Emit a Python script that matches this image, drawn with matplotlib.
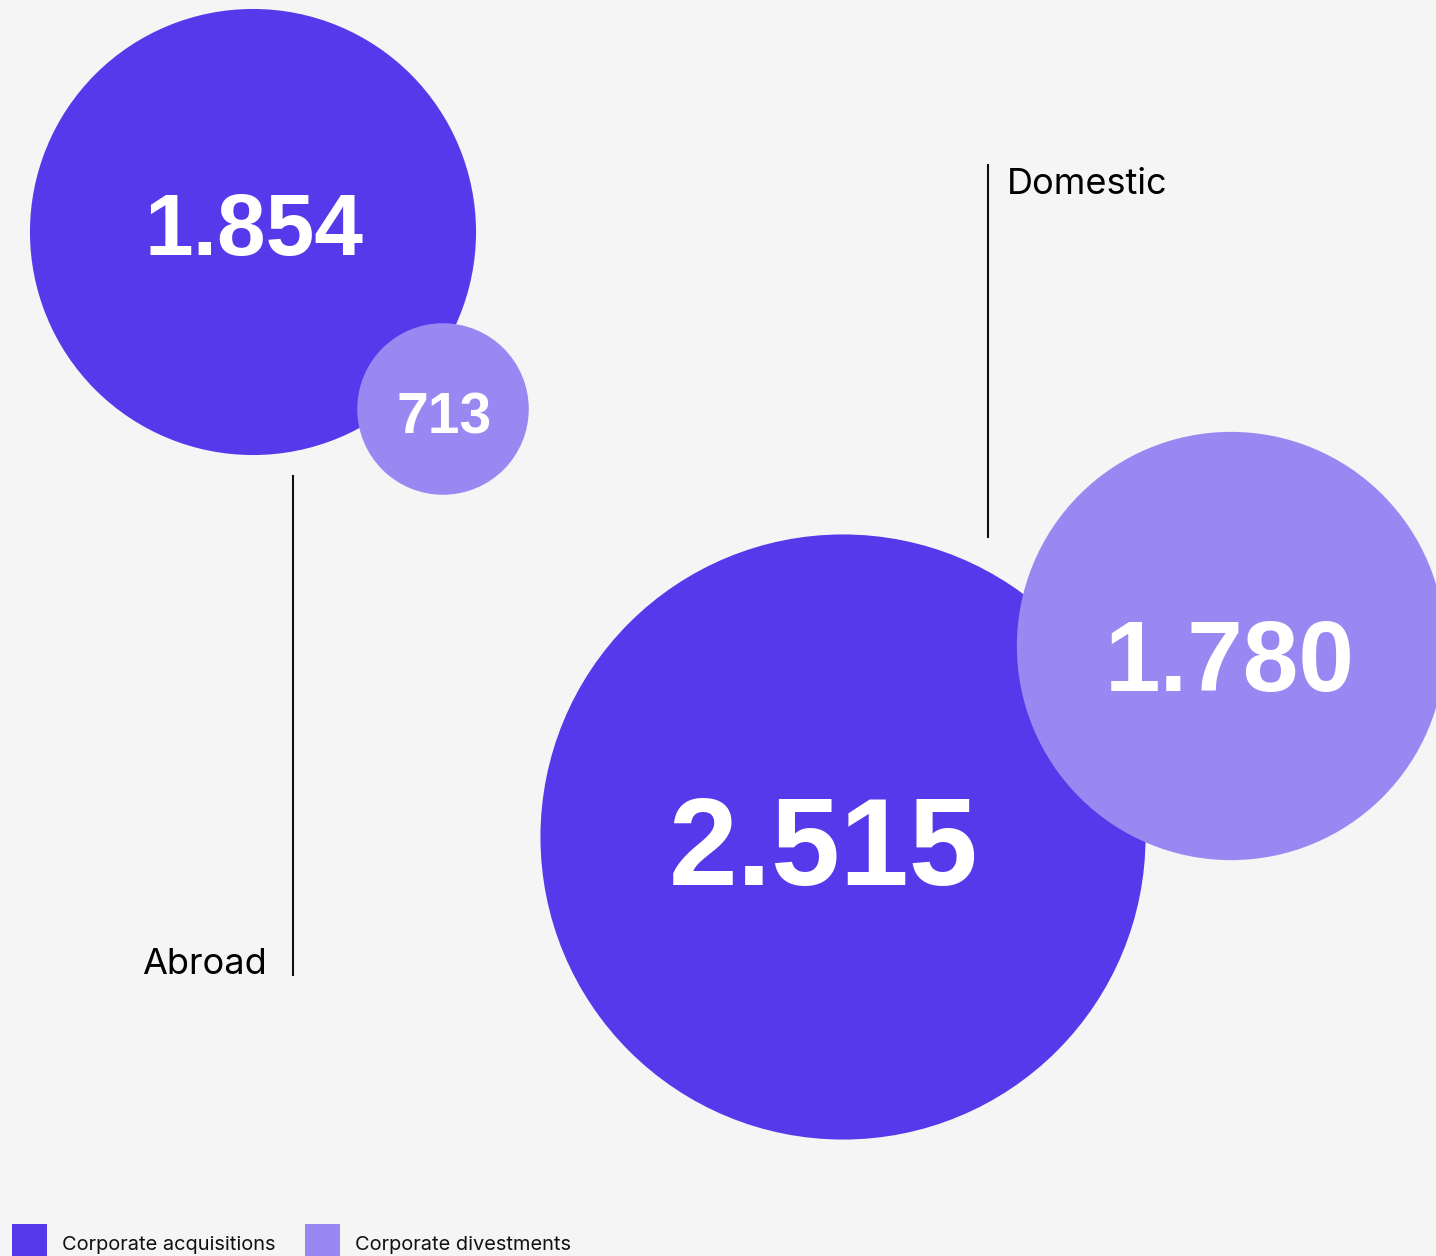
import matplotlib
matplotlib.use("Agg")
import matplotlib.pyplot as plt
from matplotlib.patches import Circle, Rectangle

# Data
groups = ["Abroad", "Domestic"]
acquisitions = [1854, 2515]
divestments = [713, 1780]
value_labels_acq = ["1.854", "2.515"]
value_labels_div = ["713", "1.780"]
legend_labels = ["Corporate acquisitions", "Corporate divestments"]

# Style
BG = "#F5F5F5"
C_ACQ = "#5639EA"
C_DIV = "#9A88F2"
SCALE = 0.1203  # px radius per unit value

W, H = 1436, 1256
fig = plt.figure(figsize=(W / 100, H / 100), dpi=100, facecolor=BG)
ax = fig.add_axes([0, 0, 1, 1])
ax.set_xlim(0, W)
ax.set_ylim(H, 0)
ax.set_facecolor(BG)
ax.axis("off")

# layout: centers (px) for each group
acq_centers = [(253, 232), (843, 837)]
div_centers = [(443, 409), (1231, 646)]
acq_text_pos = [(254, 233), (824, 853)]
div_text_pos = [(444, 418), (1230, 665)]
acq_fs = [63, 89]
div_fs = [41, 72]

num_font = ["Liberation Sans", "DejaVu Sans"]
lab_font = ["Inter", "DejaVu Sans"]

for i in range(len(groups)):
    cx, cy = acq_centers[i]
    ax.add_patch(Circle((cx, cy), acquisitions[i] * SCALE, color=C_ACQ, lw=0, zorder=2))
    ax.text(*acq_text_pos[i], value_labels_acq[i], color="white", fontsize=acq_fs[i],
            fontweight="bold", family=num_font, ha="center", va="center", zorder=5)
    dx, dy = div_centers[i]
    ax.add_patch(Circle((dx, dy), divestments[i] * SCALE, color=C_DIV, lw=0, zorder=3))
    ax.text(*div_text_pos[i], value_labels_div[i], color="white", fontsize=div_fs[i],
            fontweight="bold", family=num_font, ha="center", va="center", zorder=5)

# group labels with leader lines
ax.plot([293, 293], [476, 975], color="#111111", lw=1.5, zorder=4)
ax.text(267, 964, groups[0], fontsize=26, family=lab_font, ha="right", va="center", color="#000000")
ax.plot([988, 988], [165, 537], color="#111111", lw=1.5, zorder=4)
ax.text(1007, 185, groups[1], fontsize=26, family=lab_font, ha="left", va="center", color="#000000")

# legend
leg_x = [12, 305]
for i, (lab, col) in enumerate(zip(legend_labels, [C_ACQ, C_DIV])):
    ax.add_patch(Rectangle((leg_x[i], 1224), 35, 34, color=col, lw=0, clip_on=False))
    ax.text(leg_x[i] + 50, 1245, lab, fontsize=14.4, family=lab_font, ha="left", va="center", color="#111111")

fig.savefig("out.png", dpi=100, facecolor=BG)
